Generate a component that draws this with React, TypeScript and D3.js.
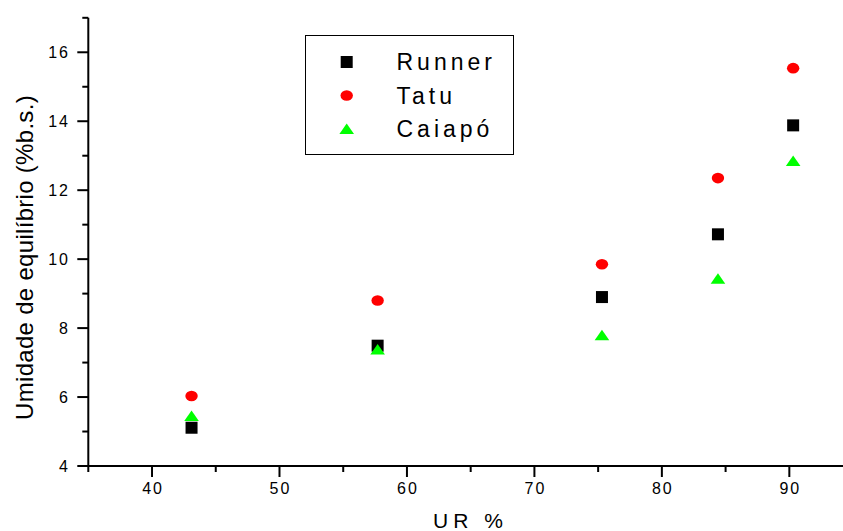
import React from 'react';
import * as d3 from 'd3';

// umidade relativa (%) de cada ensaio
const urValues = [43.1, 57.7, 75.3, 84.4, 90.3];

// umidade de equilibrio (%b.s.) por cultivar
const runnerValues = [5.11, 7.49, 8.9, 10.72, 13.88];
const tatuValues = [6.03, 8.8, 9.85, 12.35, 15.54];
const caiapoValues = [5.45, 7.38, 7.79, 9.43, 12.85];

const seriesNames = ['Runner', 'Tatu', 'Caiapó'];

const xMajorTicks = [40, 50, 60, 70, 80, 90];
const xMinorTicks = [35, 45, 55, 65, 75, 85, 95];
const yMajorTicks = [4, 6, 8, 10, 12, 14, 16];
const yMinorTicks = [5, 7, 9, 11, 13, 15, 17];

const FONT = 'Liberation Sans, Arial, Helvetica, sans-serif';

const Marker = ({ kind, cx, cy }: { kind: number; cx: number; cy: number }) => {
    if (kind === 0) {
        return <rect x={cx - 6} y={cy - 6} width={12} height={12} fill="#000" />;
    }
    if (kind === 1) {
        return <ellipse cx={cx} cy={cy} rx={6.2} ry={5.3} fill="#ff0000" />;
    }
    return (
        <path
            d={`M${cx - 7.3},${cy + 5} L${cx + 7.3},${cy + 5} L${cx},${cy - 5.5} Z`}
            fill="#00ff00"
        />
    );
};

export default function App() {
    const width = 843;
    const height = 531;
    const margin = { l: 88.3, t: 17.8, b: 466 };

    const x = d3.scaleLinear().domain([35, 95]).range([margin.l, margin.l + 12.746 * 60]);
    const y = d3.scaleLinear().domain([4, 17]).range([margin.b, margin.t]);

    const series = [runnerValues, tatuValues, caiapoValues];

    const xAxisEnd = Math.min(x(95), width);

    return (
        <svg
            width={width}
            height={height}
            style={{ position: 'absolute', left: 0, top: 0, background: '#fff' }}
            fontFamily={FONT}
        >
            <rect x={0} y={0} width={width} height={height} fill="#fff" />

            {/* axes */}
            <line x1={x(35)} x2={xAxisEnd} y1={y(4)} y2={y(4)} stroke="#000" strokeWidth={2} />
            <line x1={x(35)} x2={x(35)} y1={y(17)} y2={y(4) + 1} stroke="#000" strokeWidth={2} />

            {/* x ticks */}
            {xMajorTicks.map(d => (
                <g key={'xM' + d}>
                    <line x1={x(d)} x2={x(d)} y1={y(4)} y2={y(4) + 11} stroke="#000" strokeWidth={2} />
                    <text
                        x={x(d) + 1}
                        y={494}
                        textAnchor="middle"
                        fontSize={16}
                        letterSpacing={2}
                        fill="#000"
                    >
                        {d}
                    </text>
                </g>
            ))}
            {xMinorTicks.map(d => (
                <line key={'xm' + d} x1={x(d)} x2={x(d)} y1={y(4)} y2={y(4) + 6} stroke="#000" strokeWidth={2} />
            ))}

            {/* y ticks */}
            {yMajorTicks.map(d => (
                <g key={'yM' + d}>
                    <line x1={x(35) - 11} x2={x(35)} y1={y(d)} y2={y(d)} stroke="#000" strokeWidth={2} />
                    <text
                        x={70}
                        y={y(d) + 6}
                        textAnchor="end"
                        fontSize={16}
                        letterSpacing={2}
                        fill="#000"
                    >
                        {d}
                    </text>
                </g>
            ))}
            {yMinorTicks.map(d => (
                <line key={'ym' + d} x1={x(35) - 6} x2={x(35)} y1={y(d)} y2={y(d)} stroke="#000" strokeWidth={2} />
            ))}

            {/* axis titles */}
            <text x={470.5} y={528} textAnchor="middle" fontSize={21} letterSpacing={5} fill="#000">
                UR %
            </text>
            <text
                transform="translate(33,257.5) rotate(-90)"
                textAnchor="middle"
                fontSize={24}
                letterSpacing={0.3}
                fill="#000"
            >
                Umidade de equilíbrio (%b.s.)
            </text>

            {/* points */}
            {series.map((vals, si) => (
                <g key={'s' + si}>
                    {vals.map((v, i) => (
                        <Marker key={i} kind={si} cx={x(urValues[i])} cy={y(v)} />
                    ))}
                </g>
            ))}

            {/* legend */}
            <rect x={305.5} y={35.5} width={208} height={119} fill="#fff" stroke="#000" strokeWidth={1} />
            {seriesNames.map((name, i) => (
                <g key={name}>
                    <Marker kind={i} cx={346.7} cy={62 + i * 33.5} />
                    <text x={396.5} y={70 + i * 33.5} fontSize={23} letterSpacing={4} fill="#000">
                        {name}
                    </text>
                </g>
            ))}
        </svg>
    );
}
